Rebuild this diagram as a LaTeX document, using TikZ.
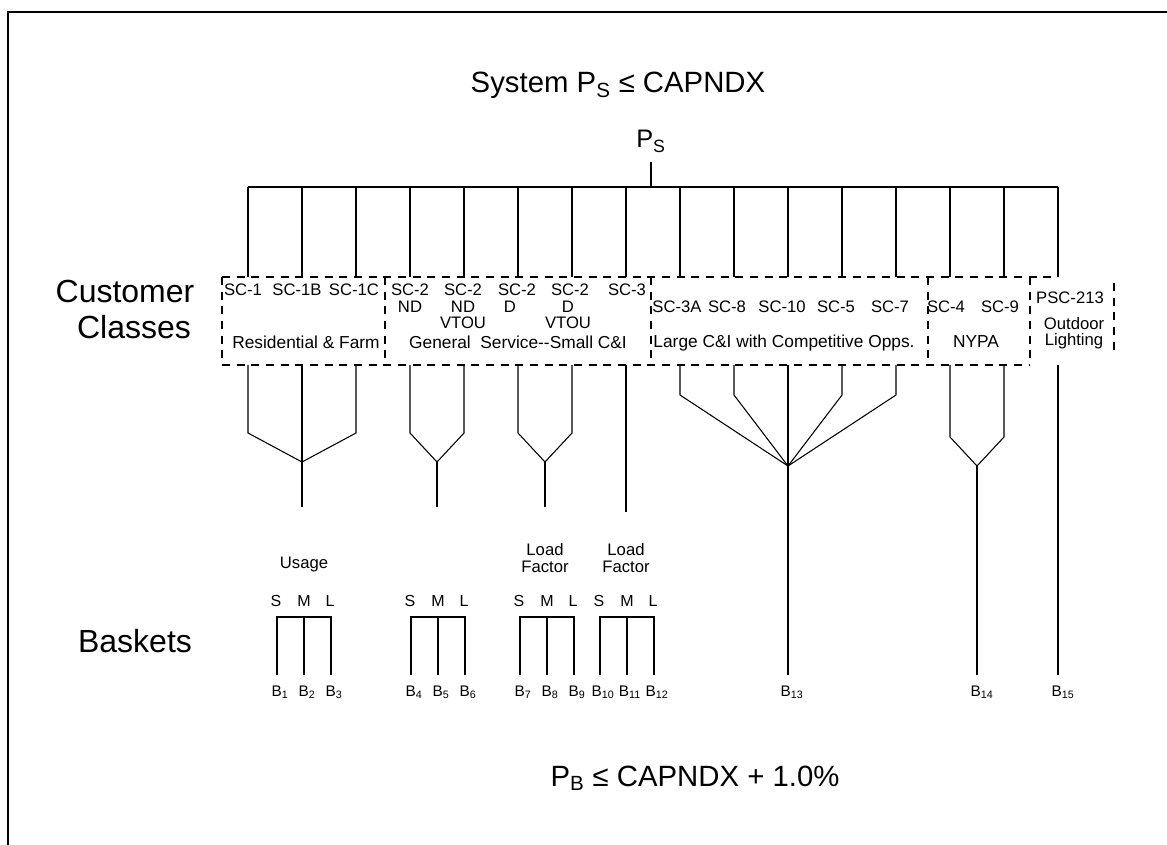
\documentclass[tikz,border=0pt]{standalone}
\usepackage{fontspec}
\setmainfont{Liberation Sans}
\tikzset{
  ln/.style={line width=0.8pt},
  dsh/.style={line width=0.8pt,dash pattern=on 6pt off 5pt},
  frame/.style={line width=2.2pt},
  txt/.style={inner sep=0pt,anchor=base},
  ttl/.style={txt,font=\fontsize{22}{26}\selectfont},
  pslbl/.style={txt,font=\fontsize{19}{22}\selectfont},
  big/.style={txt,font=\fontsize{24}{28}\selectfont},
  sc/.style={txt,font=\fontsize{12.5}{15}\selectfont},
  grp/.style={txt,font=\fontsize{13}{15}\selectfont},
  sml/.style={txt,font=\fontsize{12}{14}\selectfont},
  blbl/.style={txt,font=\fontsize{11.5}{14}\selectfont},
}
\begin{document}
\begin{tikzpicture}[x=0.75pt,y=-0.75pt]
\useasboundingbox (0,0) rectangle (1167,845);
% frame
\coordinate (fbl) at (8,845);
\coordinate (ftl) at (8,12);
\coordinate (ftr) at (1167,12);
\draw[frame] (fbl) -- (ftl) -- (ftr);

% titles
\node[ttl] (title) at (618,93) {System P\textsubscript{S} ≤ CAPNDX};
\node[pslbl] (ps) at (651,148) {P\textsubscript{S}};
\coordinate (psfoot) at (651,162);
\coordinate (bar) at (651,187);
\draw[ln] (psfoot) -- (bar);

% top bar and drops
\foreach \i [evaluate=\i as \xx using 248+54*\i] in {0,...,15}{
  \coordinate (t\i) at (\xx,187);
  \coordinate (c\i) at (\xx,277);
  \coordinate (d\i) at (\xx,365);
}
\draw[ln] (t0) -- (t15);
\foreach \i in {0,...,15}{\draw[ln] (t\i) -- (c\i);}

% dashed boxes
\draw[dsh] (222,277) -- (1058,277);
\draw[dsh] (222,365) -- (1030,365);
\foreach \x in {222,385,651,928,1030}{\draw[dsh] (\x,277) -- (\x,365);}
\draw[dsh] (1114,283) -- (1114,356);

% left labels
\node[big] (cust) at (125,302) {Customer};
\node[big] (cls) at (134,338) {Classes};
\node[big] (bsk) at (135,652) {Baskets};

% class labels
\node[sc] (sc1) at (243,295) {SC-1};
\node[sc] (sc1b) at (297,295) {SC-1B};
\node[sc] (sc1c) at (354,295) {SC-1C};
\node[sc] (sc2a) at (410,295) {SC-2};
\node[sc] (sc2a2) at (410,312) {ND};
\node[sc] (sc2b) at (463,295) {SC-2};
\node[sc] (sc2b2) at (463,312) {ND};
\node[sc] (sc2b3) at (463,328) {VTOU};
\node[sc] (sc2c) at (517,295) {SC-2};
\node[sc] (sc2c2) at (510,312) {D};
\node[sc] (sc2d) at (570,295) {SC-2};
\node[sc] (sc2d2) at (568,312) {D};
\node[sc] (sc2d3) at (568,328) {VTOU};
\node[sc] (sc3) at (627,295) {SC-3};
\node[sc] (sc3a) at (677,312) {SC-3A};
\node[sc] (sc8) at (727,312) {SC-8};
\node[sc] (sc10) at (782,312) {SC-10};
\node[sc] (sc5) at (836,312) {SC-5};
\node[sc] (sc7) at (890,312) {SC-7};
\node[sc] (sc4) at (946,312) {SC-4};
\node[sc] (sc9) at (1000,312) {SC-9};
\node[sc] (psc) at (1070,303) {PSC-213};
\node[sc] (outd) at (1074,329) {Outdoor};
\node[sc] (ltg) at (1074,345) {Lighting};

% group labels
\node[grp] (res) at (306,348) {Residential \& Farm};
\node[grp] (gen) at (518,348) {General\ \ Service{-}{-}Small C\&I};
\node[grp] (lrg) at (784,347) {Large C\&I with Competitive Opps.};
\node[grp] (nypa) at (976,347) {NYPA};

% funnels
\coordinate (g1) at (302,462); \coordinate (g1e) at (302,507);
\coordinate (g2) at (437,462); \coordinate (g2e) at (437,507);
\coordinate (g3) at (545,462); \coordinate (g3e) at (545,507);
\coordinate (g4e) at (626,512);
\coordinate (g5) at (788,466); \coordinate (g5e) at (788,675);
\coordinate (g6) at (977,466); \coordinate (g6e) at (977,675);
\coordinate (g7e) at (1058,675);

\draw[ln] (d0) -- ++(0,68) -- (g1);
\draw[ln] (d2) -- ++(0,68) -- (g1);
\draw[ln] (d1) -- (g1e);
\draw[ln] (d3) -- ++(0,68) -- (g2);
\draw[ln] (d4) -- ++(0,68) -- (g2);
\draw[ln] (g2) -- (g2e);
\draw[ln] (d5) -- ++(0,68) -- (g3);
\draw[ln] (d6) -- ++(0,68) -- (g3);
\draw[ln] (g3) -- (g3e);
\draw[ln] (d7) -- (g4e);
\draw[ln] (d8) -- ++(0,30) -- (g5);
\draw[ln] (d9) -- ++(0,30) -- (g5);
\draw[ln] (d11) -- ++(0,30) -- (g5);
\draw[ln] (d12) -- ++(0,30) -- (g5);
\draw[ln] (d10) -- (g5e);
\draw[ln] (d13) -- ++(0,72) -- (g6);
\draw[ln] (d14) -- ++(0,72) -- (g6);
\draw[ln] (g6) -- (g6e);
\draw[ln] (d15) -- (g7e);

% basket headers
\node[sc] (usage) at (304,568) {Usage};
\node[sc] (load1) at (545,555) {Load};
\node[sc] (fac1) at (545,572) {Factor};
\node[sc] (load2) at (626,555) {Load};
\node[sc] (fac2) at (626,572) {Factor};

% basket brackets
\foreach \c/\n [count=\k] in {304/1,438/4,547/7,627/10}{
  \coordinate (k\k l) at (\c-27,617);
  \coordinate (k\k m) at (\c,617);
  \coordinate (k\k r) at (\c+27,617);
  \coordinate (k\k lb) at (\c-27,675);
  \coordinate (k\k mb) at (\c,675);
  \coordinate (k\k rb) at (\c+27,675);
  \draw[ln] (k\k lb) -- (k\k l) -- (k\k r) -- (k\k rb);
  \draw[ln] (k\k m) -- (k\k mb);
  \node[sml] (s\k) at (\c-28,606) {S};
  \node[sml] (m\k) at (\c,606) {M};
  \node[sml] (l\k) at (\c+26,606) {L};
  \pgfmathtruncatemacro\na{\n}
  \pgfmathtruncatemacro\nb{\n+1}
  \pgfmathtruncatemacro\nc{\n+2}
  \node[blbl] (b\na) at (\c-24,696) {B\textsubscript{\na}};
  \node[blbl] (b\nb) at (\c+3,696) {B\textsubscript{\nb}};
  \node[blbl] (b\nc) at (\c+30,696) {B\textsubscript{\nc}};
}
\node[blbl] (b13) at (792,696) {B\textsubscript{13}};
\node[blbl] (b14) at (982,696) {B\textsubscript{14}};
\node[blbl] (b15) at (1063,696) {B\textsubscript{15}};

% bottom formula
\node[ttl] (pb) at (695,786) {P\textsubscript{B} ≤ CAPNDX + 1.0\%};
\end{tikzpicture}
\end{document}
